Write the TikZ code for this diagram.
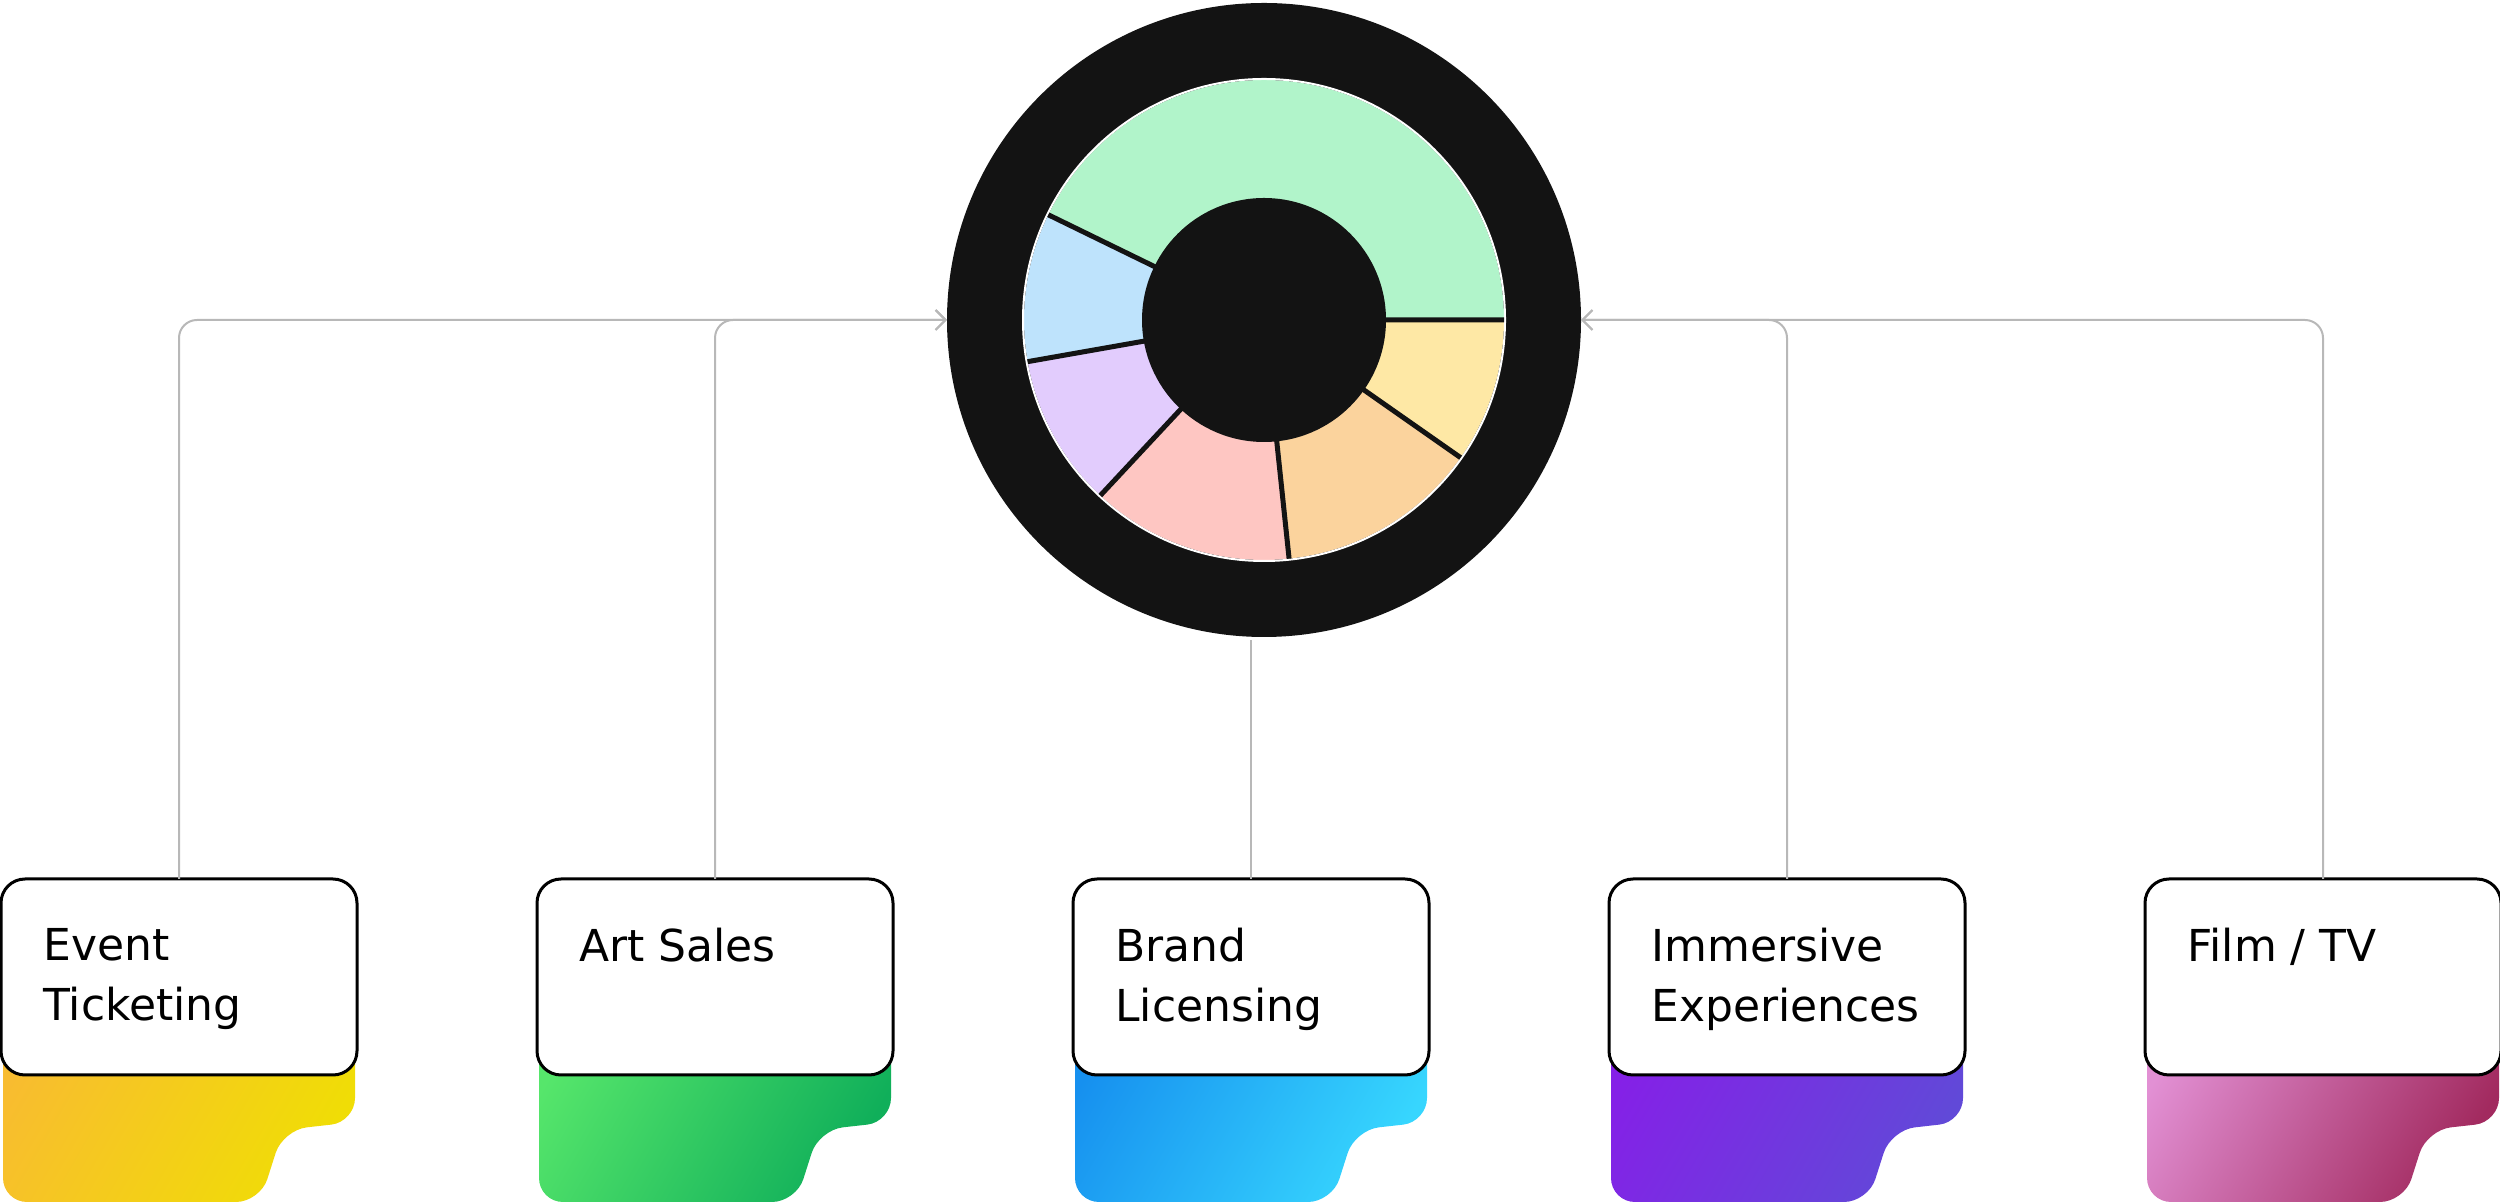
\documentclass[tikz,border=0pt]{standalone}
\usepackage{fontspec}
\setmainfont{DejaVu Sans}
\usetikzlibrary{arrows.meta,positioning,backgrounds}
\definecolor{ink}{HTML}{131313}
\definecolor{wire}{HTML}{B8B8B8}
\definecolor{segGreen}{HTML}{B1F4CA}
\definecolor{segBlue}{HTML}{BEE3FC}
\definecolor{segPurple}{HTML}{E2CCFD}
\definecolor{segPink}{HTML}{FEC6C2}
\definecolor{segOrange}{HTML}{FBD39D}
\definecolor{segYellow}{HTML}{FEE8A5}
\definecolor{tkAa}{HTML}{F8BC30}
\definecolor{tkAb}{HTML}{F0DD06}
\definecolor{tkBa}{HTML}{56E66B}
\definecolor{tkBb}{HTML}{10AF5A}
\definecolor{tkCa}{HTML}{1690EF}
\definecolor{tkCb}{HTML}{37D6FE}
\definecolor{tkDa}{HTML}{8520E7}
\definecolor{tkDb}{HTML}{6149D8}
\definecolor{tkEa}{HTML}{E290D4}
\definecolor{tkEb}{HTML}{A22A5F}

\begin{document}
\begin{tikzpicture}[
  x=0.5pt, y=0.5pt,
  card/.style={draw=black, line width=1.5pt, fill=white, rounded corners=12pt, minimum width=178pt, minimum height=98pt, inner sep=0pt, outer sep=0pt},
  cardtext/.style={anchor=north west, align=left, inner sep=0pt, font=\fontsize{22}{30}\selectfont},
  wheel/.style={circle, fill=ink, minimum size=317pt, inner sep=0pt, outer sep=0pt},
  link/.style={draw=wire, line width=1pt, rounded corners=9pt, -{Straight Barb[length=5pt,width=10pt]}},
  spoke/.style={draw=ink, line width=2.5pt},
  pics/tab/.style 2 args={code={
    \shade[left color=#1, right color=#2, shading angle=60, rounded corners=12pt]
      (2,-100) -- (354,-100) -- (354,-243) -- (282,-251) -- (259,-323) -- (2,-323) -- cycle;
  }}
]
\useasboundingbox (0,0) rectangle (2500,1204);

\node[wheel] (wheel) at (1264,884) {};
\fill[segGreen] (wheel.center) -- +(0:240) arc[start angle=0, end angle=154, radius=240] -- cycle;
\fill[segBlue] (wheel.center) -- +(154:240) arc[start angle=154, end angle=190, radius=240] -- cycle;
\fill[segPurple] (wheel.center) -- +(190:240) arc[start angle=190, end angle=227, radius=240] -- cycle;
\fill[segPink] (wheel.center) -- +(227:240) arc[start angle=227, end angle=276, radius=240] -- cycle;
\fill[segOrange] (wheel.center) -- +(276:240) arc[start angle=276, end angle=325, radius=240] -- cycle;
\fill[segYellow] (wheel.center) -- +(325:240) arc[start angle=325, end angle=360, radius=240] -- cycle;
\draw[white, line width=1pt] (wheel.center) circle[radius=241];
\draw[spoke] (wheel.center) +(0:110) -- +(0:240)
  (wheel.center) +(154:110) -- +(154:240)
  (wheel.center) +(190:110) -- +(190:240)
  (wheel.center) +(227:110) -- +(227:240)
  (wheel.center) +(276:110) -- +(276:240)
  (wheel.center) +(325:110) -- +(325:240);
\fill[ink] (wheel.center) circle[radius=122];

\node[card] (c1) at (179,227) {};
\node[card, right=90pt of c1] (c2) {};
\node[card, right=90pt of c2] (c3) {};
\node[card, right=90pt of c3] (c4) {};
\node[card, right=90pt of c4] (c5) {};

\begin{scope}[on background layer]
\pic at (c1.north west) {tab={tkAa}{tkAb}};
\pic at (c2.north west) {tab={tkBa}{tkBb}};
\pic at (c3.north west) {tab={tkCa}{tkCb}};
\pic at (c4.north west) {tab={tkDa}{tkDb}};
\pic at (c5.north west) {tab={tkEa}{tkEb}};
\end{scope}

\node[cardtext] (t1) at ([shift={(42,-49)}]c1.north west) {Event\\Ticketing};
\node[cardtext] (t2) at ([shift={(42,-49)}]c2.north west) {Art Sales};
\node[cardtext] (t3) at ([shift={(42,-49)}]c3.north west) {Brand\\Licensing};
\node[cardtext] (t4) at ([shift={(42,-49)}]c4.north west) {Immersive\\Experiences};
\node[cardtext] (t5) at ([shift={(42,-49)}]c5.north west) {Film / TV};

\draw[link] (c1.north) |- (wheel.west);
\draw[link] (c2.north) |- (wheel.west);
\draw[link] (c4.north) |- (wheel.east);
\draw[link] (c5.north) |- (wheel.east);
\draw[link, -, shorten >=1.5pt] (c3.north) -- (c3.north |- wheel.south);
\end{tikzpicture}
\end{document}
